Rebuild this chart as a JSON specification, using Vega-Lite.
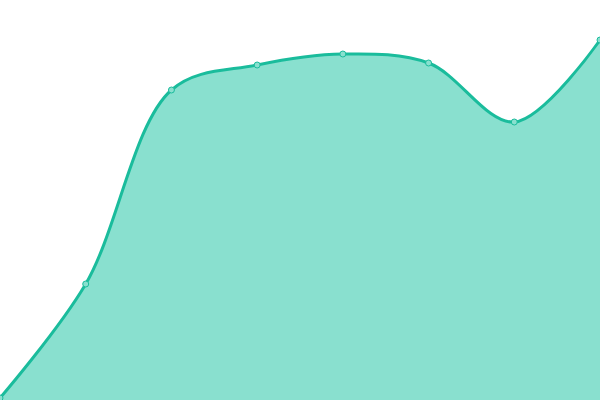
{
  "$schema": "https://vega.github.io/schema/vega-lite/v6.json",
  "autosize": "none",
  "width": 600,
  "height": 400,
  "padding": 0,
  "background": "white",
  "config": {"view": {"stroke": null}},
  "data": {"values": [
    {"i": 0, "v": 2},
    {"i": 1, "v": 116},
    {"i": 2, "v": 310},
    {"i": 3, "v": 335},
    {"i": 4, "v": 346},
    {"i": 5, "v": 337},
    {"i": 6, "v": 278},
    {"i": 7, "v": 360}
  ]},
  "encoding": {
    "x": {"field": "i", "type": "quantitative", "scale": {"domain": [0, 7], "nice": false, "zero": false}, "axis": null},
    "y": {"field": "v", "type": "quantitative", "scale": {"domain": [0, 400], "nice": false}, "axis": null}
  },
  "layer": [
    {"mark": {"type": "area", "interpolate": "catmull-rom", "color": "#89e0cf", "opacity": 1, "line": {"color": "#1abc9c", "strokeWidth": 3}}},
    {"mark": {"type": "point", "filled": true, "size": 36, "fill": "#89e0cf", "stroke": "#1abc9c", "strokeWidth": 1, "opacity": 1}}
  ]
}
